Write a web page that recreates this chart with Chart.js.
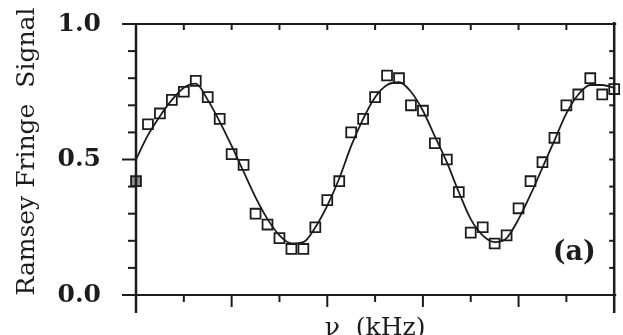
<!DOCTYPE html>
<html>
<head>
<meta charset="utf-8">
<script src="https://cdn.jsdelivr.net/npm/chart.js@4/dist/chart.umd.min.js"></script>
<style>
  html, body { margin: 0; padding: 0; background: #ffffff; }
  #wrap { width: 623px; height: 335px; position: relative; }
</style>
</head>
<body>
<div id="wrap"><canvas id="c" width="623" height="335"></canvas></div>
<script>
// ---- data ----
const freqKHz = [0, 0.25, 0.5, 0.75, 1, 1.25, 1.5, 1.75, 2, 2.25, 2.5, 2.75, 3, 3.25, 3.5, 3.75,
  4, 4.25, 4.5, 4.75, 5, 5.25, 5.5, 5.75, 6, 6.25, 6.5, 6.75, 7, 7.25, 7.5, 7.75,
  8, 8.25, 8.5, 8.75, 9, 9.25, 9.5, 9.75, 10];

const measuredSignal = [0.42, 0.63, 0.67, 0.72, 0.75, 0.79, 0.73, 0.65, 0.52, 0.48, 0.30, 0.26,
  0.21, 0.17, 0.17, 0.25, 0.35, 0.42, 0.60, 0.65, 0.73, 0.81, 0.80, 0.70, 0.68, 0.56,
  0.50, 0.38, 0.23, 0.25, 0.19, 0.22, 0.32, 0.42, 0.49, 0.58, 0.70, 0.74, 0.80, 0.74, 0.76];

const fitSignal = [0.50, 0.59, 0.66, 0.72, 0.765, 0.78, 0.72, 0.64, 0.55, 0.455, 0.36, 0.28,
  0.22, 0.19, 0.195, 0.25, 0.33, 0.43, 0.55, 0.65, 0.73, 0.775, 0.785, 0.75, 0.68, 0.585,
  0.49, 0.38, 0.28, 0.22, 0.195, 0.21, 0.28, 0.37, 0.47, 0.57, 0.67, 0.74, 0.775, 0.775, 0.765];

const xTickValues = [0, 1, 2, 3, 4, 5, 6, 7, 8, 9, 10];
const yMinorTickValues = [0, 0.1, 0.2, 0.3, 0.4, 0.5, 0.6, 0.7, 0.8, 0.9, 1.0];
const yTickValues = [0, 0.5, 1.0];
const yTickLabels = ['0.0', '0.5', '1.0'];
const xTitle = 'ν  (kHz)';
const yTitle = 'Ramsey Fringe  Signal';
const panelLabel = '(a)';

// ---- drawing ----
const INK = '#1c1c1c';
const SERIF = '"DejaVu Serif", "Liberation Serif", serif';

const framePlugin = {
  id: 'frame',
  afterDatasetsDraw(chart) {
    const { ctx, chartArea, scales } = chart;
    const { left, right, top, bottom } = chartArea;
    const xs = scales.x, ys = scales.y;
    const seg = (x1, y1, x2, y2) => { ctx.beginPath(); ctx.moveTo(x1, y1); ctx.lineTo(x2, y2); ctx.stroke(); };
    ctx.save();
    ctx.strokeStyle = INK;
    ctx.lineCap = 'butt';
    ctx.lineWidth = 2;
    seg(left - 14, top, right + 2, top);
    seg(left - 14, bottom, right + 2, bottom);
    ctx.lineWidth = 2.5;
    seg(left, top - 1, left, bottom + 18);
    seg(right, top - 2, right, bottom + 18);
    ctx.lineWidth = 2;
    xTickValues.forEach((v, i) => {
      const px = xs.getPixelForValue(v);
      const major = i % 2 === 0;
      if (i > 0 && i < xTickValues.length - 1) {
        seg(px, bottom, px, bottom + (major ? 12 : 7));
        seg(px, top, px, top + 6);
      }
    });
    yMinorTickValues.forEach((v, i) => {
      const py = ys.getPixelForValue(v);
      const major = i % 5 === 0;
      seg(left - (major ? 14 : 8), py, left, py);
      seg(right - 5, py, right, py);
    });
    ctx.fillStyle = INK;
    ctx.font = 'bold 27px ' + SERIF;
    ctx.textAlign = 'center';
    ctx.textBaseline = 'middle';
    ctx.fillText(panelLabel, right - 40, bottom - 42);
    ctx.restore();
  }
};

new Chart(document.getElementById('c'), {
  type: 'line',
  data: {
    datasets: [
      {
        label: 'Measured',
        data: freqKHz.map((f, i) => ({ x: f, y: measuredSignal[i] })),
        showLine: false,
        pointStyle: 'rect',
        pointRadius: 7,
        pointBorderWidth: 1.8,
        pointBorderColor: INK,
        pointBackgroundColor: (c) => c.dataIndex === 0 ? '#8c8c8c' : 'rgba(0,0,0,0)',
        clip: false,
        order: 0
      },
      {
        label: 'Fit',
        data: freqKHz.map((f, i) => ({ x: f, y: fitSignal[i] })),
        borderColor: INK,
        borderWidth: 1.8,
        pointRadius: 0,
        fill: false,
        cubicInterpolationMode: 'monotone',
        clip: false,
        order: 1
      }
    ]
  },
  options: {
    responsive: false,
    animation: false,
    devicePixelRatio: 1,
    layout: { padding: { top: 24, right: 8, left: 0, bottom: 0 } },
    plugins: { legend: { display: false }, tooltip: { enabled: false } },
    scales: {
      x: {
        type: 'linear', min: 0, max: 10,
        grid: { display: false, drawTicks: false },
        border: { display: false },
        ticks: { display: false },
        title: {
          display: true, text: xTitle, color: INK, padding: 0,
          font: { family: SERIF, size: 25, lineHeight: 0.5 }
        },
        afterFit(s) { s.height = 40; s.paddingLeft = 0; s.paddingRight = 0; }
      },
      y: {
        type: 'linear', min: 0, max: 1,
        grid: { display: false, drawTicks: false },
        border: { display: false },
        afterBuildTicks(s) { s.ticks = yTickValues.map(v => ({ value: v })); },
        ticks: {
          padding: 35, color: INK,
          font: { family: SERIF, size: 25, weight: 'bold' },
          callback: (v, i) => yTickLabels[i]
        },
        title: {
          display: true, text: '  ' + yTitle, color: INK,
          padding: { top: 12, bottom: 0 },
          font: { family: SERIF, size: 25 }
        },
        afterFit(s) { s.width = 136; s.paddingTop = 0; s.paddingBottom = 0; }
      }
    }
  },
  plugins: [framePlugin]
});
</script>
</body>
</html>
